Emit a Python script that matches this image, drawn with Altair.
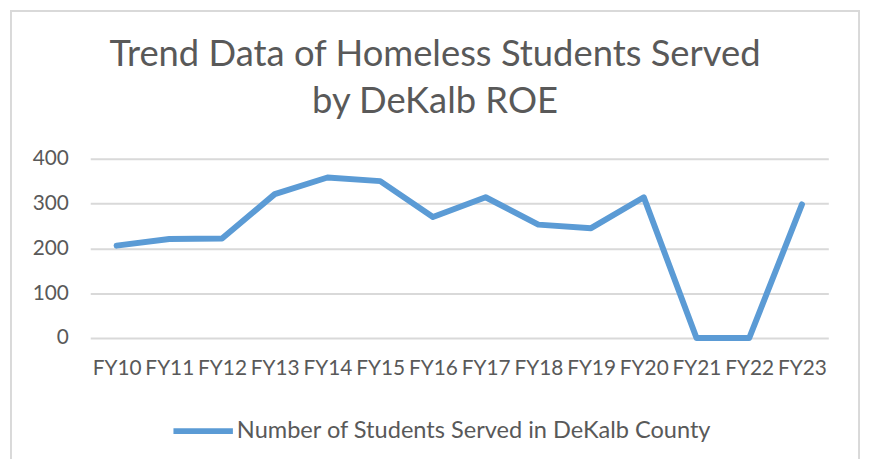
import altair as alt
import pandas as pd

years = ["FY10", "FY11", "FY12", "FY13", "FY14", "FY15", "FY16",
         "FY17", "FY18", "FY19", "FY20", "FY21", "FY22", "FY23"]
students = [206, 221, 222, 321, 358, 350, 270, 314, 253, 245, 314, 0, 0, 298]
series_name = "Number of Students Served in DeKalb County"
y_ticks = [0, 100, 200, 300, 400]
title_text = "Trend Data of Homeless Students Served\nby DeKalb ROE"

df = pd.DataFrame({"year": years, "students": students,
                   "series": [series_name] * len(years)})

FONT = "Lato"
GRAY = "#595959"
BLUE = "#5b9bd5"
GRID = "#d9d9d9"

line = alt.Chart(df).mark_line(
    strokeWidth=6, strokeCap="round", strokeJoin="round"
).encode(
    x=alt.X("year:N", sort=years, title=None,
            scale=alt.Scale(type="point", padding=0.5),
            axis=alt.Axis(labelAngle=0, labelPadding=20, ticks=False, domain=False,
                          grid=False, labelFontSize=21, labelColor=GRAY,
                          labelFont=FONT, labelOverlap=False)),
    y=alt.Y("students:Q", title=None, scale=alt.Scale(domain=[0, 400]),
            axis=alt.Axis(values=y_ticks, ticks=False, domain=False, grid=True,
                          gridColor=GRID, gridWidth=2, labelPadding=22,
                          labelFontSize=21, labelColor=GRAY, labelFont=FONT)),
    color=alt.Color("series:N", scale=alt.Scale(range=[BLUE]),
                    legend=alt.Legend(title=None, orient="none", legendX=81,
                                      legendY=242, symbolType="stroke",
                                      symbolSize=3600, symbolStrokeWidth=6,
                                      labelFontSize=23.8, labelFont=FONT,
                                      labelColor=GRAY, labelOffset=1,
                                      labelLimit=800)),
)

frame = alt.Chart(pd.DataFrame({"a": [0]})).mark_rect(
    fillOpacity=0, stroke=GRID, strokeWidth=2
).encode(
    x=alt.value(-80), x2=alt.value(776), y=alt.value(-149), y2=alt.value(330)
)

title = alt.Chart(pd.DataFrame({"t": [title_text]})).mark_text(
    font=FONT, fontSize=36.7, color=GRAY, lineBreak="\n", lineHeight=48,
    align="center", baseline="middle"
).encode(
    text="t:N", x=alt.value(348), y=alt.value(-105)
)

chart = alt.layer(frame, title, line).properties(
    width=745, height=181,
    autosize=alt.AutoSizeParams(type="none"),
    padding={"left": 83, "top": 150, "right": 34, "bottom": 120},
).configure_view(stroke=None)

chart.save("out.html", embed_options={"renderer": "svg", "actions": False})
